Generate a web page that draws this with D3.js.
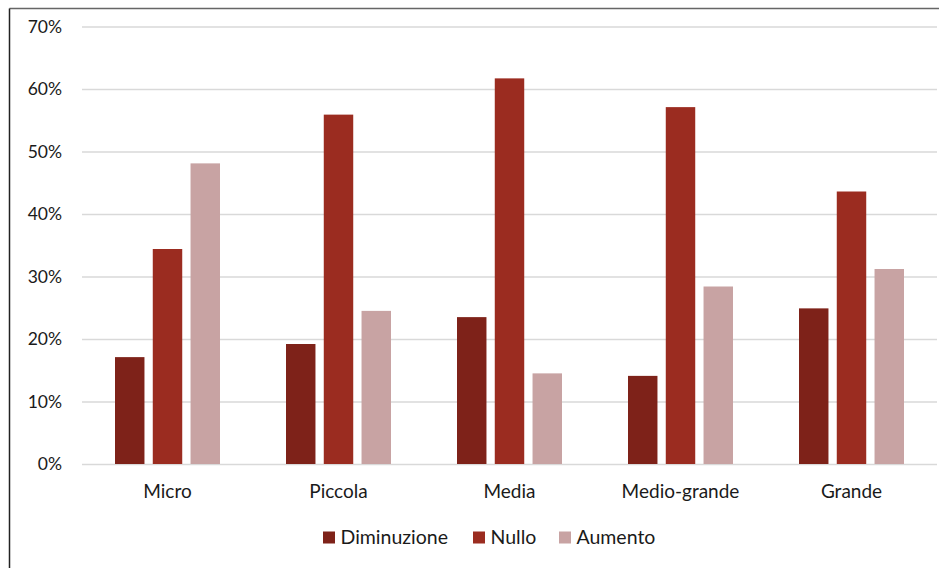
<!DOCTYPE html>
<html>
<head>
<meta charset="utf-8">
<script src="https://cdn.jsdelivr.net/npm/d3@7"></script>
<style>
  html, body { margin: 0; padding: 0; background: #fff; }
  svg { display: block; }
  text { font-family: "Lato", "Noto Sans", sans-serif; fill: #1a1a1a; }
</style>
</head>
<body>
<svg id="chart" width="939" height="568"></svg>
<script>
// Dimensione d'impresa
const categories = ["Micro", "Piccola", "Media", "Medio-grande", "Grande"];
const seriesNames = ["Diminuzione", "Nullo", "Aumento"];
const seriesColors = ["#7E2219", "#9B2C20", "#C8A3A3"];
const diminuzione = [17.1, 19.2, 23.5, 14.1, 24.9];
const nullo = [34.4, 55.9, 61.7, 57.1, 43.6];
const aumento = [48.1, 24.5, 14.5, 28.4, 31.2];
const yTicks = [0, 10, 20, 30, 40, 50, 60, 70];

const values = [diminuzione, nullo, aumento];
const rows = categories.map((c, i) => ({
  category: c,
  vals: seriesNames.map((s, j) => ({ series: s, value: values[j][i], color: seriesColors[j] }))
}));

const svg = d3.select("#chart");
const W = 939, H = 568;
const plot = { left: 82, right: 937, top: 26.5, bottom: 464 };
const FONT = "Lato, 'Noto Sans', sans-serif";

// Chart frame
svg.append("line").attr("x1", 9.5).attr("x2", W).attr("y1", 8.5).attr("y2", 8.5)
  .attr("stroke", "#666").attr("stroke-width", 1.5);
svg.append("line").attr("x1", 9.5).attr("x2", 9.5).attr("y1", 8.5).attr("y2", H)
  .attr("stroke", "#222").attr("stroke-width", 1.5);

const x0 = d3.scaleBand().domain(categories).range([plot.left, plot.right]).paddingInner(0).paddingOuter(0);
const x1 = d3.scaleBand().domain(seriesNames).range([33, x0.bandwidth() - 33]).paddingInner(0.22).paddingOuter(0);
const y = d3.scaleLinear().domain([0, 70]).range([plot.bottom, plot.top]);

// Gridlines and y labels
const yAxis = d3.axisLeft(y).tickValues(yTicks).tickFormat(d => d + "%")
  .tickSize(-(plot.right - plot.left)).tickPadding(20);
const gy = svg.append("g").attr("transform", `translate(${plot.left},0)`).call(yAxis);
gy.select(".domain").remove();
gy.selectAll(".tick line").attr("stroke", "#d9d9d9").attr("stroke-width", 1.5);
gy.selectAll(".tick text").attr("font-size", 17.5).attr("fill", "#1a1a1a")
  .style("font-family", FONT);

// Category labels
const xAxis = d3.axisBottom(x0).tickSize(0).tickPadding(21);
const gx = svg.append("g").attr("transform", `translate(0,${plot.bottom})`).call(xAxis);
gx.select(".domain").remove();
gx.selectAll(".tick text").attr("font-size", 19).attr("fill", "#1a1a1a")
  .style("font-family", FONT);

// Bars
const groups = svg.append("g").selectAll("g").data(rows).join("g")
  .attr("transform", d => `translate(${x0(d.category)},0)`);
groups.selectAll("rect").data(d => d.vals).join("rect")
  .attr("x", d => x1(d.series))
  .attr("width", x1.bandwidth())
  .attr("y", d => y(d.value))
  .attr("height", d => y(0) - y(d.value))
  .attr("fill", d => d.color);

// Legend
const legendX = [323, 473, 559];
const legend = svg.append("g").selectAll("g").data(seriesNames).join("g")
  .attr("transform", (d, i) => `translate(${legendX[i]},531.5)`);
legend.append("rect").attr("width", 12).attr("height", 12).attr("fill", (d, i) => seriesColors[i]);
legend.append("text").attr("x", 17.5).attr("y", 12.5).attr("font-size", 19.5).text(d => d);
</script>
</body>
</html>
